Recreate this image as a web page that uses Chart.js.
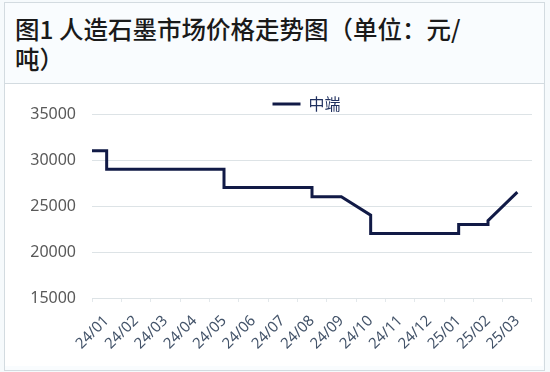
<!DOCTYPE html>
<html>
<head>
<meta charset="utf-8">
<script src="https://cdn.jsdelivr.net/npm/chart.js@4.4.1/dist/chart.umd.min.js"></script>
<style>
  body { margin: 0; width: 550px; height: 372px; background: #f6fafc; position: relative; overflow: hidden; }
  #frame { position: absolute; left: 4px; top: 2px; width: 539px; height: 367px; border: 1px solid #d3dbe0; background: #f9fcfe; }
  #title { position: absolute; left: 15px; top: 14px; width: 462px; font-family: "Noto Sans CJK SC", sans-serif; font-weight: 500; font-size: 24.5px; line-height: 30px; color: #1a1a1a; }
  #sep { position: absolute; left: 4px; top: 83px; width: 541px; height: 1px; background: #d3dbe0; }
  #box { position: absolute; left: 5px; top: 84px; width: 538px; height: 282px; background: #fff; }
</style>
</head>
<body>
<div id="frame"></div>
<div id="title">图1 人造石墨市场价格走势图（单位：元/吨）</div>
<div id="sep"></div>
<div id="box"><canvas id="c" width="538" height="282"></canvas></div>
<script>
// month labels on the x axis
var monthLabels = ['24/01','24/02','24/03','24/04','24/05','24/06','24/07','24/08','24/09','24/10','24/11','24/12','25/01','25/02','25/03'];
// price series, x = month index (label centre), y = 元/吨
var priceMonth = [-0.5, 0, 0, 4, 4, 7, 7, 8, 9, 9, 12, 12, 13, 13, 14];
var priceValue = [31000, 31000, 29000, 29000, 27000, 27000, 26000, 26000, 24000, 22000, 22000, 23000, 23000, 23400, 26500];
var yTicks = [15000, 20000, 25000, 30000, 35000];

var pts = [];
for (var i = 0; i < priceMonth.length; i++) {
  pts.push({x: priceMonth[i], y: priceValue[i]});
}

// keep the legend short and nudge it right, like the original
var legendFix = {
  id: 'legendFix',
  beforeLayout: function(chart) {
    var lg = chart.legend;
    if (lg && !lg._fixed) {
      var f = lg.fit;
      lg.fit = function() { f.call(this); this.height = 21; };
      lg._fixed = true;
    }
  },
  afterLayout: function(chart) {
    chart.legend.left += 38;
    chart.legend.right += 38;
  }
};

var lineChart = new Chart(document.getElementById('c'), {
  type: 'line',
  data: {
    datasets: [{
      label: '中端',
      data: pts,
      borderColor: '#111a46',
      backgroundColor: '#111a46',
      borderWidth: 3,
      pointRadius: 0,
      tension: 0,
      fill: false
    }]
  },
  options: {
    responsive: false,
    animation: false,
    layout: { padding: { left: 0, right: 11, top: 9, bottom: 0 } },
    plugins: {
      legend: {
        display: true,
        labels: {
          usePointStyle: true,
          pointStyle: 'line',
          pointStyleWidth: 28,
          color: '#1f2f5e',
          font: { family: '"Noto Sans CJK SC", sans-serif', size: 16 },
          padding: 3
        }
      },
      tooltip: { enabled: false }
    },
    scales: {
      x: {
        type: 'linear',
        min: -0.5,
        max: 14.5,
        afterBuildTicks: function(scale) {
          scale.ticks = monthLabels.map(function(l, i) { return {value: i}; });
        },
        afterFit: function(scale) { scale.height = 68; },
        ticks: {
          autoSkip: false,
          minRotation: 45,
          maxRotation: 45,
          color: '#44546a',
          font: { family: '"Noto Sans", sans-serif', size: 15 },
          padding: 10,
          callback: function(v) { return monthLabels[v]; }
        },
        grid: { display: true, drawOnChartArea: false, offset: true, tickLength: 4, color: '#e3e8eb' },
        border: { display: false }
      },
      y: {
        min: 15000,
        max: 35000,
        afterBuildTicks: function(scale) {
          scale.ticks = yTicks.map(function(v) { return {value: v}; });
        },
        afterFit: function(scale) { scale.width = 87; },
        ticks: {
          color: '#595959',
          font: { family: '"Noto Sans", sans-serif', size: 16 },
          padding: 16,
          callback: function(v) { return String(v); }
        },
        grid: { color: '#dde3e6', drawTicks: false },
        border: { display: false }
      }
    }
  },
  plugins: [legendFix]
});
</script>
</body>
</html>
